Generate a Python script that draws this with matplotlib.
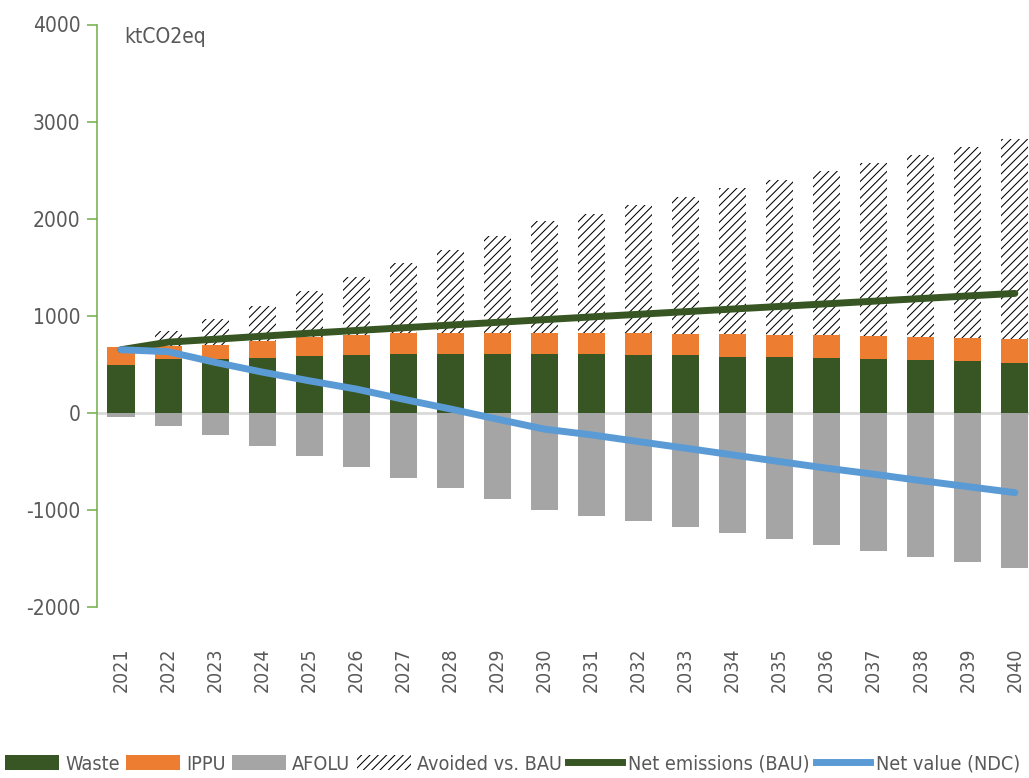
import matplotlib
matplotlib.use("Agg")
import matplotlib.pyplot as plt
import numpy as np
from matplotlib.patches import Patch
from matplotlib.lines import Line2D

years = [str(y) for y in range(2021, 2041)]
waste = [491, 553, 553, 564, 584, 598, 608, 608, 608, 608, 608, 598, 598, 577, 577, 567, 557, 546, 536, 515]
ippu = [189, 137, 147, 178, 196, 199, 217, 217, 217, 217, 217, 222, 216, 237, 227, 237, 237, 238, 237, 248]
afolu = [-41, -134, -227, -340, -443, -553, -667, -770, -883, -997, -1059, -1110, -1172, -1234, -1296, -1357, -1419, -1481, -1533, -1595]
avoided = [0, 148, 266, 361, 470, 598, 718, 855, 993, 1147, 1223, 1317, 1412, 1502, 1591, 1684, 1780, 1876, 1966, 2059]
net_bau = [650, 728, 758, 789, 820, 848, 876, 904, 932, 960, 988, 1015, 1042, 1069, 1096, 1123, 1150, 1177, 1204, 1230]
net_ndc = [650, 630, 520, 420, 330, 245, 140, 40, -65, -168, -227, -296, -364, -433, -502, -570, -632, -698, -760, -822]

plt.rcParams['font.family'] = ['DejaVu Sans']
plt.rcParams['font.stretch'] = 'condensed'
plt.rcParams['axes.unicode_minus'] = False
plt.rcParams['hatch.linewidth'] = 0.75

C_WASTE = '#375623'
C_IPPU = '#ED7D31'
C_AFOLU = '#A5A5A5'
C_NDC = '#5B9BD5'
C_TXT = '#595959'
C_AX = '#70AD47'

fig = plt.figure(figsize=(10.29, 7.78), dpi=100)
ax = fig.add_axes([97/1029, 1-607/778, 1-97/1029, (607-24.5)/778])

x = np.arange(len(years))
w = 0.575
waste_a = np.array(waste); ippu_a = np.array(ippu)
ax.axhline(0, color='#D9D9D9', lw=2, zorder=1)
ax.bar(x, waste_a, w, color=C_WASTE, zorder=2)
ax.bar(x, ippu_a, w, bottom=waste_a, color=C_IPPU, zorder=2)
ax.bar(x, afolu, w, color=C_AFOLU, zorder=2)
ax.bar(x, avoided, w, bottom=waste_a + ippu_a, facecolor='none', edgecolor='black',
       linewidth=0, hatch='////', zorder=2)
ax.plot(x, net_bau, color=C_WASTE, lw=5, solid_capstyle='round', zorder=3)
ax.plot(x, net_ndc, color=C_NDC, lw=5, solid_capstyle='round', zorder=4)

ax.set_xlim(-0.51, 19.3)
ax.set_ylim(-2000, 4000)
ax.set_yticks(range(-2000, 4001, 1000))
ax.set_xticks(x)
ax.set_xticklabels(years, rotation=90, fontsize=14, color=C_TXT)
ax.tick_params(axis='x', length=0, pad=29)
ax.tick_params(axis='y', length=7, width=1.1, color=C_AX, labelsize=15, labelcolor=C_TXT, pad=5)
for s in ['top', 'right', 'bottom']:
    ax.spines[s].set_visible(False)
ax.spines['left'].set_color(C_AX)
ax.spines['left'].set_linewidth(1.1)

fig.text(124/1029, 1-43/778, 'ktCO2eq', fontsize=15, color=C_TXT, ha='left', va='baseline')

handles = [Patch(facecolor=C_WASTE), Patch(facecolor=C_IPPU), Patch(facecolor=C_AFOLU),
           Patch(facecolor='none', edgecolor='black', linewidth=0, hatch='////'),
           Line2D([], [], color=C_WASTE, lw=5), Line2D([], [], color=C_NDC, lw=5)]
labels = ['Waste', 'IPPU', 'AFOLU', 'Avoided vs. BAU', 'Net emissions (BAU)', 'Net value (NDC)']
leg = fig.legend(handles, labels, loc='center left', bbox_to_anchor=(5/1029, 1-764/778), ncol=6,
                 frameon=False, fontsize=14.2, handlelength=2.75, handleheight=0.75,
                 handletextpad=0.3, columnspacing=0.32, borderpad=0, borderaxespad=0)
for t in leg.get_texts():
    t.set_color(C_TXT)

fig.savefig('out.png', dpi=100)
